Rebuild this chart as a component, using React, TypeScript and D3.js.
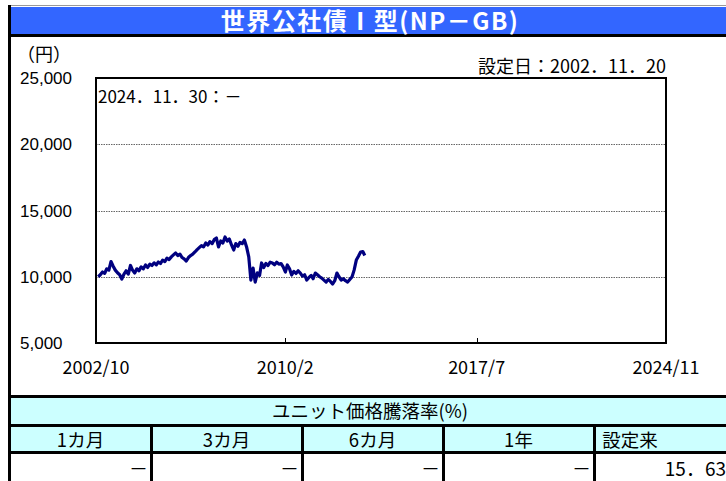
import React from "react";
import * as d3 from "d3";

const titleText = "世界公社債Ⅰ型(NP－GB)";
const unitLabel = "（円）";
const inceptionLabel = "設定日：2002．11．20";
const latestLabel = "2024．11．30：－";

const yTicks = [5000, 10000, 15000, 20000, 25000];
const xTickLabels = ["2002/10", "2010/2", "2017/7", "2024/11"];
const xTickDates = ["2002-10-01", "2010-02-01", "2017-07-01", "2024-11-01"];

const seriesStart = "2002-11-01";
// monthly unit price (yen), 2002/11 .. 2013/3
const navValues = [
  10000, 10150,
  10360, 10250, 10600, 10500, 11150, 10800, 10500, 10300, 10150, 9830, 10200, 10450,
  10200, 10850, 10500, 10280, 10600, 10450, 10750, 10600, 10890, 10700, 10950, 10850,
  11050, 10900, 11110, 11000, 11250, 11150, 11400, 11300, 11500, 11650, 11790, 11600,
  11700, 11450, 11350, 11190, 11450, 11600, 11700, 11870, 12050, 12200, 12350, 12250,
  12550, 12400, 12650, 12500, 12800, 12920, 12250, 12700, 12550, 13000, 12700, 12850,
  12400, 12020, 12500, 12300, 12600, 12500, 12770, 12250, 11500, 9750, 10660, 9600,
  10300, 10100, 11040, 10700, 11000, 10850, 11100, 11040, 10900, 11100, 10950, 11000,
  10750, 10360, 10890, 10600, 10130, 10400, 10250, 10450, 10280, 10050, 10150, 9750,
  9950, 10100, 9850, 10280, 10150, 10000, 9900, 9750, 9600, 9800, 9650, 9450,
  9700, 10280, 10000, 9750, 9850, 9700, 9600, 9800, 9980, 10500, 11260, 11550,
  11870, 11900, 11600,
];

const tableTitle = "ユニット価格騰落率(%)";
const periodHeaders = ["1カ月", "3カ月", "6カ月", "1年", "設定来"];
const periodReturns = ["－", "－", "－", "－", "15．63"];
const colEdges = [10, 151, 302, 443, 594, 666];

const JP = "'Noto Sans CJK JP', sans-serif";
const AR = "'Liberation Sans', Arial, sans-serif";

export default function App() {
  const W = 726, H = 481;
  const plot = { l: 96, r: 666, t: 78, b: 343 };
  const parse = d3.timeParse("%Y-%m-%d");
  const x = d3
    .scaleTime()
    .domain([parse(xTickDates[0])!, parse(xTickDates[3])!])
    .range([plot.l, plot.r]);
  const y = d3.scaleLinear().domain([5000, 25000]).range([plot.b, plot.t]);
  const start = parse(seriesStart)!;
  const pts = navValues.map((v, i) => ({ d: d3.timeMonth.offset(start, i), v }));
  const line = d3
    .line<{ d: Date; v: number }>()
    .x((p) => x(p.d))
    .y((p) => y(p.v));

  return (
    <svg
      width={W}
      height={H}
      style={{ position: "absolute", left: 0, top: 0, background: "#fff" }}
    >
      <rect x={0} y={0} width={W} height={H} fill="#fff" />
      {/* outer frame */}
      <line x1={8} x2={W} y1={5.5} y2={5.5} stroke="#999" strokeWidth={1} />
      <rect x={11} y={7} width={W - 11} height={27} fill="#3366FF" />
      <line x1={8} x2={W} y1={35.5} y2={35.5} stroke="#000" strokeWidth={3} />
      <line x1={9.5} x2={9.5} y1={5} y2={H} stroke="#000" strokeWidth={3} />
      <text
        x={370}
        y={30}
        textAnchor="middle"
        fill="#fff"
        fontFamily={JP}
        fontWeight="bold"
        fontSize={24}
        letterSpacing={1.5}
      >
        {titleText}
      </text>
      <text x={17} y={61} fontFamily={JP} fontSize={18} fill="#000">
        {unitLabel}
      </text>
      <text x={666} y={73} textAnchor="end" fontFamily={JP} fontSize={18} fill="#000">
        {inceptionLabel}
      </text>

      {/* grid */}
      {yTicks
        .filter((t) => t > 5000 && t < 25000)
        .map((t) => (
          <line
            key={t}
            x1={plot.l}
            x2={plot.r}
            y1={Math.round(y(t)) + 0.5}
            y2={Math.round(y(t)) + 0.5}
            stroke="#666"
            strokeWidth={1}
            strokeDasharray="1.5,1"
          />
        ))}
      {yTicks.map((t) => (
        <text
          key={t}
          x={20}
          y={y(t) + 6}
          fontFamily={AR}
          fontSize={17}
          fill="#000"
        >
          {d3.format(",")(t)}
        </text>
      ))}
      {xTickDates.map((s, i) => (
        <g key={s}>
          {i > 0 && i < 3 && (
            <line
              x1={Math.round(x(parse(s)!)) + 0.5}
              x2={Math.round(x(parse(s)!)) + 0.5}
              y1={plot.b}
              y2={plot.b - 5}
              stroke="#000"
            />
          )}
          <text
            x={x(parse(s)!)}
            y={374}
            textAnchor="middle"
            fontFamily={JP}
            fontSize={18}
            fill="#000"
          >
            {xTickLabels[i]}
          </text>
        </g>
      ))}

      <path
        d={line(pts) || ""}
        fill="none"
        stroke="#000080"
        strokeWidth={3.2}
        strokeLinejoin="round"
      />
      <rect
        x={plot.l}
        y={plot.t}
        width={plot.r - plot.l}
        height={plot.b - plot.t}
        fill="none"
        stroke="#000"
        strokeWidth={2}
      />
      <text x={98} y={103} fontFamily={JP} fontSize={17} fill="#000">
        {latestLabel}
      </text>

      {/* table */}
      <rect x={11} y={398} width={W - 11} height={26} fill="#CCFFFF" />
      <rect x={11} y={427} width={W - 11} height={24} fill="#CCFFFF" />
      <line x1={8} x2={W} y1={396.5} y2={396.5} stroke="#000" strokeWidth={3} />
      <line x1={8} x2={W} y1={425.5} y2={425.5} stroke="#000" strokeWidth={3} />
      <line x1={8} x2={W} y1={452.5} y2={452.5} stroke="#000" strokeWidth={3} />
      <text x={370} y={418} textAnchor="middle" fontFamily={JP} fontSize={18.5} fill="#000">
        {tableTitle}
      </text>
      {periodHeaders.map((h, i) => {
        const x0 = colEdges[i];
        const x1 = colEdges[i + 1];
        return (
          <g key={h}>
            {i > 0 && (
              <line
                x1={x0 + 0.5}
                x2={x0 + 0.5}
                y1={426}
                y2={H}
                stroke="#000"
                strokeWidth={3}
              />
            )}
            <text
              x={(x0 + x1) / 2}
              y={447}
              textAnchor="middle"
              fontFamily={JP}
              fontSize={18.5}
              fill="#000"
            >
              {h}
            </text>
            <text
              x={i === 4 ? 726 : colEdges[i + 1] - 3}
              y={476}
              textAnchor="end"
              fontFamily={JP}
              fontSize={19}
              fill="#000"
            >
              {periodReturns[i]}
            </text>
          </g>
        );
      })}
    </svg>
  );
}
